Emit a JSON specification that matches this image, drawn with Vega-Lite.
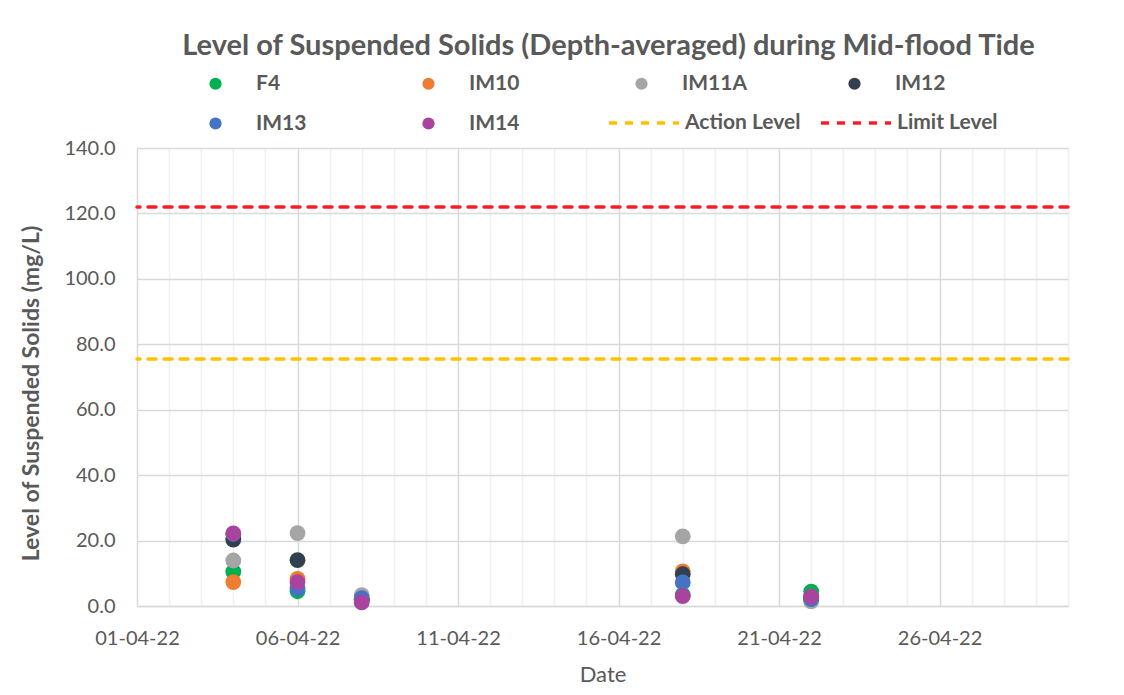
{
  "$schema": "https://vega.github.io/schema/vega-lite/v6.json",
  "width": 931,
  "height": 458,
  "autosize": {"type": "none"},
  "padding": {"left": 137, "top": 148, "right": 56, "bottom": 89},
  "background": "white",
  "title": {
    "text": "Level of Suspended Solids (Depth-averaged) during Mid-flood Tide",
    "font": "Lato",
    "fontSize": 29,
    "fontWeight": "bold",
    "color": "#595959",
    "anchor": "middle",
    "offset": 12,
    "dx": 6
  },
  "config": {
    "view": {"stroke": null},
    "font": "Lato"
  },
  "layer": [
    {
      "data": {
        "values": [
          {"date": "2022-04-04", "station": "F4", "value": 10.5},
          {"date": "2022-04-06", "station": "F4", "value": 4.5},
          {"date": "2022-04-08", "station": "F4", "value": 2.0},
          {"date": "2022-04-18", "station": "F4", "value": 3.4},
          {"date": "2022-04-22", "station": "F4", "value": 4.4},
          {"date": "2022-04-04", "station": "IM10", "value": 7.3},
          {"date": "2022-04-06", "station": "IM10", "value": 8.3},
          {"date": "2022-04-08", "station": "IM10", "value": 1.6},
          {"date": "2022-04-18", "station": "IM10", "value": 10.6},
          {"date": "2022-04-22", "station": "IM10", "value": 1.8},
          {"date": "2022-04-04", "station": "IM11A", "value": 13.9},
          {"date": "2022-04-06", "station": "IM11A", "value": 22.3},
          {"date": "2022-04-08", "station": "IM11A", "value": 3.3},
          {"date": "2022-04-18", "station": "IM11A", "value": 21.3},
          {"date": "2022-04-22", "station": "IM11A", "value": 1.4},
          {"date": "2022-04-04", "station": "IM12", "value": 20.3},
          {"date": "2022-04-06", "station": "IM12", "value": 14.0},
          {"date": "2022-04-08", "station": "IM12", "value": 2.0},
          {"date": "2022-04-18", "station": "IM12", "value": 9.7},
          {"date": "2022-04-22", "station": "IM12", "value": 2.6},
          {"date": "2022-04-04", "station": "IM13", "value": 22.0},
          {"date": "2022-04-06", "station": "IM13", "value": 5.3},
          {"date": "2022-04-08", "station": "IM13", "value": 2.4},
          {"date": "2022-04-18", "station": "IM13", "value": 7.2},
          {"date": "2022-04-22", "station": "IM13", "value": 2.1},
          {"date": "2022-04-04", "station": "IM14", "value": 22.2},
          {"date": "2022-04-06", "station": "IM14", "value": 7.3},
          {"date": "2022-04-08", "station": "IM14", "value": 1.1},
          {"date": "2022-04-18", "station": "IM14", "value": 3.0},
          {"date": "2022-04-22", "station": "IM14", "value": 2.9}
        ]
      },
      "mark": {"type": "circle", "size": 250, "opacity": 1},
      "encoding": {
        "x": {
          "field": "date",
          "type": "temporal",
          "title": "Date",
          "scale": {
            "type": "utc",
            "domain": [
              {"year": 2022, "month": 4, "date": 1, "utc": true},
              {"year": 2022, "month": 4, "date": 30, "utc": true}
            ]
          },
          "axis": {
            "tickCount": {"interval": "day", "step": 1},
            "labelExpr": "(utcdate(datum.value) - 1) % 5 === 0 ? utcFormat(datum.value, '%d-%m-%y') : ''",
            "labelOverlap": false,
            "labelFlush": false,
            "labelBound": false,
            "labelFont": "Lato",
            "labelFontSize": 20,
            "labelColor": "#595959",
            "labelPadding": 22,
            "ticks": false,
            "domainColor": "#D9D9D9",
            "domainWidth": 1.5,
            "grid": true,
            "gridColor": {
              "condition": {"test": "(utcdate(datum.value) - 1) % 5 === 0", "value": "#D9D9D9"},
              "value": "#F0F0F0"
            },
            "gridWidth": 1.5,
            "titleFont": "Lato",
            "titleFontSize": 22,
            "titleFontWeight": "normal",
            "titleColor": "#595959",
            "titlePadding": 16
          }
        },
        "y": {
          "field": "value",
          "type": "quantitative",
          "title": "Level of Suspended Solids (mg/L)",
          "scale": {"domain": [0, 140], "nice": false},
          "axis": {
            "values": [0, 5, 10, 15, 20, 25, 30, 35, 40, 45, 50, 55, 60, 65, 70, 75, 80, 85, 90, 95, 100, 105, 110, 115, 120, 125, 130, 135, 140],
            "labelExpr": "datum.value % 20 === 0 ? format(datum.value, '.1f') : ''",
            "labelOverlap": false,
            "labelFlush": false,
            "labelBound": false,
            "labelFont": "Lato",
            "labelFontSize": 20,
            "labelColor": "#595959",
            "labelPadding": 22,
            "ticks": false,
            "domain": false,
            "grid": true,
            "gridColor": {
              "condition": {"test": "datum.value % 20 === 0", "value": "#D9D9D9"},
              "value": "#F0F0F0"
            },
            "gridWidth": 1.5,
            "titleFont": "Lato",
            "titleFontSize": 23,
            "titleFontWeight": "bold",
            "titleColor": "#595959",
            "titlePadding": 20,
            "titleY": 245
          }
        },
        "fill": {
          "field": "station",
          "type": "nominal",
          "sort": null,
          "scale": {
            "domain": ["F4", "IM10", "IM11A", "IM12", "IM13", "IM14"],
            "range": ["#00B050", "#ED7D31", "#A5A5A5", "#323F4F", "#4472C4", "#A8449E"]
          },
          "legend": {
            "title": null,
            "orient": "none",
            "legendX": 68,
            "legendY": -75,
            "direction": "horizontal",
            "columns": 4,
            "gridAlign": "all",
            "symbolType": "circle",
            "symbolSize": 150,
            "symbolStrokeWidth": 0,
            "labelFont": "Lato",
            "labelFontSize": 21,
            "labelFontWeight": "bold",
            "labelColor": "#595959",
            "labelOffset": 30,
            "columnPadding": 96,
            "rowPadding": 18
          }
        }
      }
    },
    {
      "data": {
        "values": [
          {"level": "Action Level", "value": 75.5},
          {"level": "Limit Level", "value": 122.0}
        ]
      },
      "mark": {"type": "rule", "strokeWidth": 3.5, "strokeDash": [8, 8], "strokeCap": "round"},
      "encoding": {
        "y": {"field": "value", "type": "quantitative"},
        "stroke": {
          "field": "level",
          "type": "nominal",
          "scale": {
            "domain": ["Action Level", "Limit Level"],
            "range": ["#FFC000", "#FF1D25"]
          },
          "legend": {
            "title": null,
            "orient": "none",
            "legendX": 470,
            "legendY": -62,
            "direction": "horizontal",
            "symbolType": "stroke",
            "symbolSize": 4900,
            "symbolStrokeWidth": 3.5,
            "symbolDash": [8, 8],
            "labelFont": "Lato",
            "labelFontSize": 21,
            "labelFontWeight": "bold",
            "labelColor": "#595959",
            "labelOffset": 4,
            "columnPadding": 13
          }
        }
      }
    }
  ]
}
